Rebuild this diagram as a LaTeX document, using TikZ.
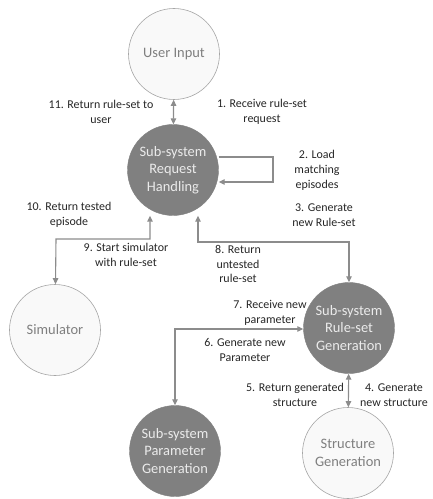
\documentclass[tikz,border=0pt]{standalone}
\usepackage{fontspec}
\setmainfont{Carlito}
\usetikzlibrary{arrows.meta}
\definecolor{darkc}{HTML}{808080}
\definecolor{lightedge}{HTML}{A6A6A6}
\definecolor{lightfill}{HTML}{F9F9F9}
\definecolor{lighttext}{HTML}{7F7F7F}
\definecolor{arrowc}{HTML}{8C8C8C}
\definecolor{labelc}{HTML}{262626}
\tikzset{
  darknode/.style={circle, fill=darkc, draw=darkc, minimum size=91bp, inner sep=0pt, align=center, text=white!92!black, font=\fontsize{14.5}{17.5}\selectfont},
  lightnode/.style={circle, fill=lightfill, draw=lightedge, line width=0.6bp, minimum size=91bp, inner sep=0pt, align=center, text=lighttext, font=\fontsize{14.5}{17.5}\selectfont},
  conn/.style={draw=arrowc, line width=1.1bp, -{Triangle[width=5.5bp,length=6bp]}},
  dconn/.style={draw=arrowc, line width=1.1bp, {Triangle[width=5.5bp,length=6bp]}-{Triangle[width=5.5bp,length=6bp]}},
  lbl/.style={align=center, text=labelc, font=\fontsize{12}{15}\selectfont, inner sep=0pt}
}
\begin{document}
\begin{tikzpicture}[x=1bp,y=-1bp]
\useasboundingbox (0,0) rectangle (432,499);
\node[lightnode] (ui) at (174,54) {User Input};
\node[darknode] (rh) at (173,170) {Sub-system\\Request\\Handling};
\node[lightnode] (sim) at (55,330) {Simulator};
\node[darknode] (rs) at (349,328) {Sub-system\\Rule-set\\Generation};
\node[darknode] (pg) at (175,451) {Sub-system\\Parameter\\Generation};
\node[lightnode] (sg) at (348,453) {Structure\\Generation};

\coordinate (l1) at (273,157);
\coordinate (l2) at (273,182);
\coordinate (a1) at (150,239);
\coordinate (a2) at (56,239);
\coordinate (b1) at (198,242);
\coordinate (b2) at (349,242);
\coordinate (c1) at (175,329);

\draw[dconn] (ui) -- (rh);
\draw[conn] (rh.east |- l1) -- (l1) -- (l2) -- (rh.east |- l2);
\draw[dconn] (rh.south -| a1) -- (a1) -- (a2) -- (sim);
\draw[dconn] (rh.south -| b1) -- (b1) -- (b2) -- (rs);
\draw[dconn] (rs.west |- c1) -- (c1) -- (pg);
\draw[dconn] (rs) -- (sg);

\node[lbl] (t11) at (101,112) {11. Return rule-set to\\user};
\node[lbl] (t1) at (262,112) {1. Receive rule-set\\request};
\node[lbl] (t2) at (317,170) {2. Load\\matching\\episodes};
\node[lbl] (t3) at (324,215) {3. Generate\\new Rule-set};
\node[lbl] (t10) at (69,215) {10. Return tested\\episode};
\node[lbl] (t9) at (126,255) {9. Start simulator\\with rule-set};
\node[lbl] (t8) at (238,264) {8. Return\\untested\\rule-set};
\node[lbl] (t7) at (270,313) {7. Receive new\\parameter};
\node[lbl] (t6) at (245,350) {6. Generate new\\Parameter};
\node[lbl] (t5) at (295,395) {5. Return generated\\structure};
\node[lbl] (t4) at (394,395) {4. Generate\\new structure};
\end{tikzpicture}
\end{document}
